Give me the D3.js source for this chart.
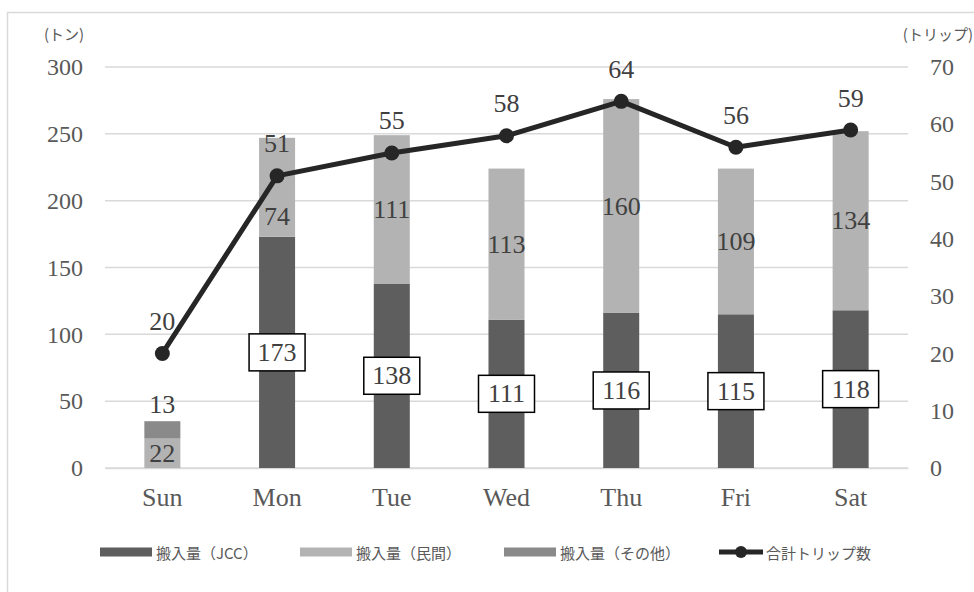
<!DOCTYPE html>
<html>
<head>
<meta charset="utf-8">
<script src="https://cdn.jsdelivr.net/npm/d3@7/dist/d3.min.js"></script>
<style>
  html, body { margin: 0; padding: 0; background: #fff; }
  svg { display: block; }
</style>
</head>
<body>
<svg id="chart" width="974" height="592"></svg>
<script>
// Weekly waste delivery (tonnes) by source, with total trips per day
const days = ["Sun", "Mon", "Tue", "Wed", "Thu", "Fri", "Sat"];
const jcc = [0, 173, 138, 111, 116, 115, 118];        // 搬入量（JCC）
const minkan = [22, 74, 111, 113, 160, 109, 134];     // 搬入量（民間）
const other = [13, 0, 0, 0, 0, 0, 0];                 // 搬入量（その他）
const trips = [20, 51, 55, 58, 64, 56, 59];           // 合計トリップ数

const leftTicks = [0, 50, 100, 150, 200, 250, 300];
const rightTicks = [0, 10, 20, 30, 40, 50, 60, 70];

const seriesNames = ["搬入量（JCC）", "搬入量（民間）", "搬入量（その他）"];
const seriesColors = ["#5e5e5e", "#b3b3b3", "#8a8a8a"];
const lineName = "合計トリップ数";
const lineColor = "#262626";

const svg = d3.select("#chart");
const serif = "'Liberation Serif', 'DejaVu Serif', serif";
const jp = "'Noto Sans CJK JP', sans-serif";

// outer chart frame
svg.append("rect")
  .attr("x", 7.5).attr("y", 12.5)
  .attr("width", 1000).attr("height", 620)
  .attr("fill", "none").attr("stroke", "#d9d9d9").attr("stroke-width", 1.5);

const plot = { left: 105, right: 908, top: 67, bottom: 468 };

const x = d3.scaleBand()
  .domain(days)
  .range([plot.left, plot.right])
  .paddingInner(0.686)
  .paddingOuter(0.343);

const yL = d3.scaleLinear().domain([0, 300]).range([plot.bottom, plot.top]);
const yR = d3.scaleLinear().domain([0, 70]).range([plot.bottom, plot.top]);

// gridlines
svg.append("g")
  .selectAll("line")
  .data(leftTicks)
  .join("line")
  .attr("x1", plot.left).attr("x2", plot.right)
  .attr("y1", d => yL(d)).attr("y2", d => yL(d))
  .attr("stroke", "#d9d9d9").attr("stroke-width", 1.5);

// left axis
const axL = svg.append("g")
  .attr("transform", `translate(${plot.left - 22},0)`)
  .call(d3.axisLeft(yL).tickValues(leftTicks).tickSize(0).tickPadding(0));
axL.select(".domain").remove();
axL.selectAll("text")
  .attr("font-family", serif).attr("font-size", 24).attr("fill", "#595959");

// right axis
const axR = svg.append("g")
  .attr("transform", `translate(${plot.right + 22},0)`)
  .call(d3.axisRight(yR).tickValues(rightTicks).tickSize(0).tickPadding(0));
axR.select(".domain").remove();
axR.selectAll("text")
  .attr("font-family", serif).attr("font-size", 24).attr("fill", "#595959");

// category axis
const axB = svg.append("g")
  .attr("transform", `translate(0,${plot.bottom})`)
  .call(d3.axisBottom(x).tickSize(0).tickPadding(0));
axB.select(".domain")
  .attr("stroke", "#d9d9d9").attr("stroke-width", 1.5);
axB.selectAll("text")
  .attr("font-family", serif).attr("font-size", 26).attr("fill", "#595959")
  .attr("dy", null).attr("y", 38);

// axis unit titles
svg.append("text")
  .attr("x", 44).attr("y", 40)
  .attr("font-family", jp).attr("font-size", 15).attr("fill", "#595959")
  .text("(トン)");
svg.append("text")
  .attr("x", 973).attr("y", 40)
  .attr("text-anchor", "end")
  .attr("font-family", jp).attr("font-size", 15).attr("fill", "#595959")
  .text("(トリップ)");

// stacked bars
const rows = days.map((d, i) => ({ day: d, jcc: jcc[i], minkan: minkan[i], other: other[i] }));
const keys = ["jcc", "minkan", "other"];
const stack = d3.stack().keys(keys)(rows);

svg.append("g")
  .selectAll("g")
  .data(stack)
  .join("g")
  .attr("fill", (d, i) => seriesColors[i])
  .selectAll("rect")
  .data(d => d)
  .join("rect")
  .attr("x", d => x(d.data.day))
  .attr("width", x.bandwidth())
  .attr("y", d => yL(d[1]))
  .attr("height", d => yL(d[0]) - yL(d[1]));

// trip line
const line = d3.line()
  .x((d, i) => x(days[i]) + x.bandwidth() / 2)
  .y(d => yR(d));

svg.append("path")
  .datum(trips)
  .attr("d", line)
  .attr("fill", "none")
  .attr("stroke", lineColor)
  .attr("stroke-width", 5)
  .attr("stroke-linejoin", "round");

svg.append("g")
  .selectAll("circle")
  .data(trips)
  .join("circle")
  .attr("cx", (d, i) => x(days[i]) + x.bandwidth() / 2)
  .attr("cy", d => yR(d))
  .attr("r", 7.5)
  .attr("fill", lineColor);

const labelColor = "#404040";
const cx = i => x(days[i]) + x.bandwidth() / 2;

// 民間 labels, centred in their segment; nudged below the trip marker when they would sit on it
const minkanLayer = svg.append("g");
minkan.forEach((v, i) => {
  if (!v) return;
  let ly = yL(jcc[i] + v / 2);
  const py = yR(trips[i]);
  if (Math.abs(ly - py) < 24) ly = py + 41;
  minkanLayer.append("text")
    .attr("x", cx(i)).attr("y", ly)
    .attr("text-anchor", "middle").attr("dominant-baseline", "central")
    .attr("font-family", serif).attr("font-size", 26).attr("fill", labelColor)
    .text(v);
});

// その他 labels, just above the stack
other.forEach((v, i) => {
  if (!v) return;
  svg.append("text")
    .attr("x", cx(i)).attr("y", yL(jcc[i] + minkan[i] + v) - 17)
    .attr("text-anchor", "middle").attr("dominant-baseline", "central")
    .attr("font-family", serif).attr("font-size", 26).attr("fill", labelColor)
    .text(v);
});

// JCC labels in white boxes at the middle of the segment
jcc.forEach((v, i) => {
  if (!v) return;
  const g = svg.append("g")
    .attr("transform", `translate(${cx(i)},${yL(v / 2)})`);
  g.append("rect")
    .attr("x", -28).attr("y", -18.5).attr("width", 56).attr("height", 37)
    .attr("fill", "#fff").attr("stroke", "#000").attr("stroke-width", 1.5);
  g.append("text")
    .attr("text-anchor", "middle").attr("dominant-baseline", "central")
    .attr("font-family", serif).attr("font-size", 26).attr("fill", labelColor)
    .text(v);
});

// trip labels above markers
trips.forEach((v, i) => {
  svg.append("text")
    .attr("x", cx(i)).attr("y", yR(v) - 32)
    .attr("text-anchor", "middle").attr("dominant-baseline", "central")
    .attr("font-family", serif).attr("font-size", 26).attr("fill", labelColor)
    .text(v);
});

// legend
const legendY = 552;
const legendX = [100, 300, 504];
seriesNames.forEach((name, i) => {
  svg.append("rect")
    .attr("x", legendX[i]).attr("y", legendY - 4.5)
    .attr("width", 52).attr("height", 9)
    .attr("fill", seriesColors[i]);
  svg.append("text")
    .attr("x", legendX[i] + 56).attr("y", legendY)
    .attr("dominant-baseline", "central")
    .attr("font-family", jp).attr("font-size", 15).attr("fill", "#595959")
    .text(name);
});
const lx = 719;
svg.append("line")
  .attr("x1", lx).attr("x2", lx + 44)
  .attr("y1", legendY).attr("y2", legendY)
  .attr("stroke", lineColor).attr("stroke-width", 5);
svg.append("circle")
  .attr("cx", lx + 22).attr("cy", legendY).attr("r", 6)
  .attr("fill", lineColor);
svg.append("text")
  .attr("x", lx + 47).attr("y", legendY)
  .attr("dominant-baseline", "central")
  .attr("font-family", jp).attr("font-size", 15).attr("fill", "#595959")
  .text(lineName);
</script>
</body>
</html>
